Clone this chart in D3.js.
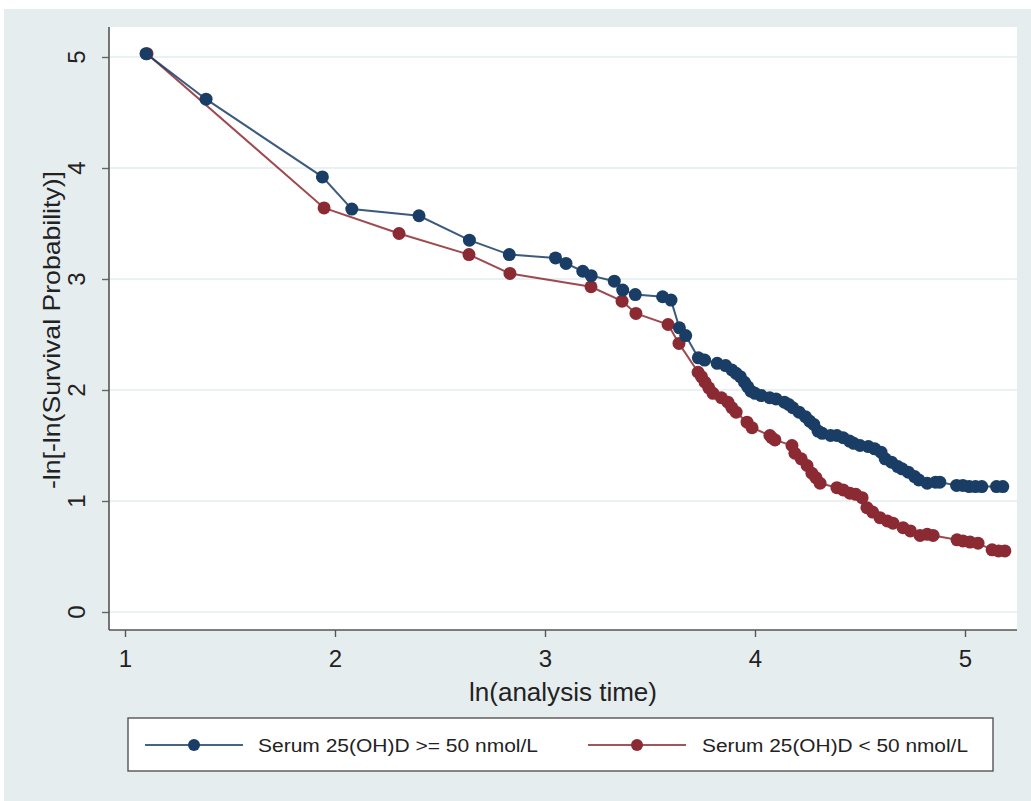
<!DOCTYPE html>
<html>
<head>
<meta charset="utf-8">
<script src="https://cdn.jsdelivr.net/npm/d3@7"></script>
<style>
  html, body { margin: 0; padding: 0; background: #ffffff; }
  svg { display: block; }
  text { font-family: "Liberation Sans", Arial, Helvetica, sans-serif; fill: #222; }
</style>
</head>
<body>
<svg id="chart" width="1031" height="801"></svg>
<script>
// ln(analysis time) vs -ln[-ln(S)] for the two serum 25(OH)D groups
const highX = [1.10, 1.386, 1.94, 2.08, 2.40, 2.64, 2.83, 3.05, 3.10, 3.18, 3.22, 3.33, 3.37, 3.43, 3.56, 3.60,
  3.64, 3.67, 3.73, 3.76, 3.82, 3.86, 3.89, 3.91, 3.93, 3.95, 3.965, 3.98, 4.00, 4.03, 4.07, 4.10, 4.14, 4.16,
  4.18, 4.21, 4.24, 4.26, 4.28, 4.30, 4.32, 4.36, 4.39, 4.42, 4.45, 4.47, 4.50, 4.54, 4.57, 4.60, 4.62, 4.65,
  4.68, 4.70, 4.73, 4.76, 4.78, 4.82, 4.86, 4.88, 4.96, 4.99, 5.02, 5.05, 5.08, 5.15, 5.18];
const highY = [5.03, 4.62, 3.92, 3.63, 3.57, 3.35, 3.22, 3.19, 3.14, 3.07, 3.03, 2.98, 2.90, 2.86, 2.84, 2.81,
  2.56, 2.49, 2.29, 2.27, 2.24, 2.22, 2.18, 2.15, 2.12, 2.07, 2.03, 1.99, 1.97, 1.95, 1.93, 1.92, 1.89, 1.87,
  1.84, 1.80, 1.76, 1.72, 1.69, 1.63, 1.61, 1.59, 1.59, 1.57, 1.54, 1.52, 1.50, 1.49, 1.47, 1.44, 1.38, 1.35,
  1.31, 1.29, 1.26, 1.22, 1.19, 1.16, 1.17, 1.17, 1.14, 1.14, 1.13, 1.13, 1.13, 1.13, 1.13];

const lowX = [1.105, 1.948, 2.305, 2.638, 2.833, 3.219, 3.367, 3.433, 3.586, 3.638, 3.729, 3.745, 3.762,
  3.78, 3.80, 3.84, 3.871, 3.89, 3.91, 3.962, 3.986, 4.071, 4.08, 4.095, 4.176, 4.19, 4.22, 4.248, 4.271,
  4.29, 4.31, 4.39, 4.42, 4.452, 4.48, 4.51, 4.533, 4.56, 4.595, 4.63, 4.657, 4.705, 4.74, 4.786, 4.82, 4.848,
  4.962, 4.99, 5.024, 5.062, 5.129, 5.16, 5.19];
const lowY = [5.03, 3.64, 3.41, 3.22, 3.05, 2.93, 2.80, 2.69, 2.59, 2.42, 2.16, 2.12, 2.07, 2.02, 1.97, 1.93,
  1.89, 1.84, 1.80, 1.71, 1.66, 1.59, 1.57, 1.55, 1.50, 1.43, 1.38, 1.32, 1.25, 1.21, 1.16, 1.12, 1.10, 1.07,
  1.06, 1.03, 0.94, 0.90, 0.85, 0.82, 0.80, 0.76, 0.73, 0.69, 0.70, 0.69, 0.65, 0.64, 0.63, 0.62, 0.56, 0.55, 0.55];

const xTicks = [1, 2, 3, 4, 5];
const yTicks = [0, 1, 2, 3, 4, 5];

const seriesNames = ["Serum 25(OH)D >= 50 nmol/L", "Serum 25(OH)D < 50 nmol/L"];
const seriesColors = ["#1a3d66", "#8c2a33"];

const svg = d3.select("#chart");
const W = 1031, H = 801;

// outer graph region
svg.append("rect").attr("x", 4).attr("y", 9).attr("width", W - 4).attr("height", H - 9)
  .attr("fill", "#e6edef");

// plot region
const plot = { left: 109, right: 1017, top: 27, bottom: 630 };
svg.append("rect").attr("x", plot.left).attr("y", plot.top)
  .attr("width", plot.right - plot.left).attr("height", plot.bottom - plot.top)
  .attr("fill", "#ffffff");

const x = d3.scaleLinear().domain([1, 5]).range([125, 965]);
const y = d3.scaleLinear().domain([0, 5]).range([612, 57]);

// horizontal grid lines
svg.append("g").selectAll("line").data(yTicks).join("line")
  .attr("x1", plot.left).attr("x2", plot.right)
  .attr("y1", d => y(d)).attr("y2", d => y(d))
  .attr("stroke", "#e9f1f2").attr("stroke-width", 2.2);

// y axis: ticks from the axis generator, labels written upright-rotated
const yAxis = svg.append("g").attr("transform", `translate(${plot.left},0)`)
  .call(d3.axisLeft(y).tickValues(yTicks).tickSize(7).tickFormat(d3.format("d")));
yAxis.select(".domain").remove();
yAxis.selectAll(".tick line").attr("stroke", "#666").attr("stroke-width", 1.4);
yAxis.selectAll(".tick text").remove();
svg.append("line").attr("x1", plot.left).attr("x2", plot.left)
  .attr("y1", plot.top).attr("y2", plot.bottom).attr("stroke", "#555").attr("stroke-width", 1.6);
svg.append("g").selectAll("text").data(yTicks).join("text")
  .attr("transform", d => `translate(85,${y(d)}) rotate(-90)`)
  .attr("text-anchor", "middle")
  .style("font-size", "24px")
  .text(d => d);

// x axis
const xAxis = svg.append("g").attr("transform", `translate(0,${plot.bottom})`)
  .call(d3.axisBottom(x).tickValues(xTicks).tickSize(7).tickPadding(13).tickFormat(d3.format("d")));
xAxis.select(".domain").remove();
xAxis.selectAll(".tick line").attr("stroke", "#555").attr("stroke-width", 1.4);
xAxis.selectAll(".tick text").style("font-size", "24px").attr("fill", "#222")
  .style("font-family", "'Liberation Sans', Arial, sans-serif");
svg.append("line").attr("x1", plot.left).attr("x2", plot.right)
  .attr("y1", plot.bottom).attr("y2", plot.bottom).attr("stroke", "#555").attr("stroke-width", 1.6);

// axis titles
svg.append("text").attr("x", 563).attr("y", 701).attr("text-anchor", "middle")
  .style("font-size", "25px").attr("textLength", 188).attr("lengthAdjust", "spacingAndGlyphs")
  .text("ln(analysis time)");
svg.append("text").attr("transform", "translate(60,330) rotate(-90)")
  .attr("text-anchor", "middle").style("font-size", "24px")
  .attr("textLength", 318).attr("lengthAdjust", "spacingAndGlyphs")
  .text("-ln[-ln(Survival Probability)]");

// series
const seriesData = [
  d3.zip(highX, highY),
  d3.zip(lowX, lowY)
];
const line = d3.line().x(d => x(d[0])).y(d => y(d[1]));

// draw the low group first so the high group sits on top at the shared start
[1, 0].forEach(i => {
  const g = svg.append("g");
  g.append("path").datum(seriesData[i]).attr("d", line)
    .attr("fill", "none").attr("stroke", seriesColors[i]).attr("stroke-width", 2)
    .attr("stroke-opacity", 0.85);
  g.selectAll("circle").data(seriesData[i]).join("circle")
    .attr("cx", d => x(d[0])).attr("cy", d => y(d[1])).attr("r", 6.5)
    .attr("fill", seriesColors[i]);
});

// legend
const legend = svg.append("g");
legend.append("rect").attr("x", 128).attr("y", 718).attr("width", 865).attr("height", 53)
  .attr("fill", "#ffffff").attr("stroke", "#555").attr("stroke-width", 1.4);
const legendItems = [
  { x1: 145, x2: 243, mx: 194, tx: 258, w: 280 },
  { x1: 588, x2: 686, mx: 637, tx: 702, w: 266 }
];
legendItems.forEach((it, i) => {
  legend.append("line").attr("x1", it.x1).attr("x2", it.x2).attr("y1", 745).attr("y2", 745)
    .attr("stroke", seriesColors[i]).attr("stroke-width", 2.2).attr("stroke-opacity", 0.8);
  legend.append("circle").attr("cx", it.mx).attr("cy", 745).attr("r", 6).attr("fill", seriesColors[i]);
  legend.append("text").attr("x", it.tx).attr("y", 752).style("font-size", "18px")
    .attr("textLength", it.w).attr("lengthAdjust", "spacingAndGlyphs")
    .attr("fill", "#333").text(seriesNames[i]);
});
</script>
</body>
</html>
